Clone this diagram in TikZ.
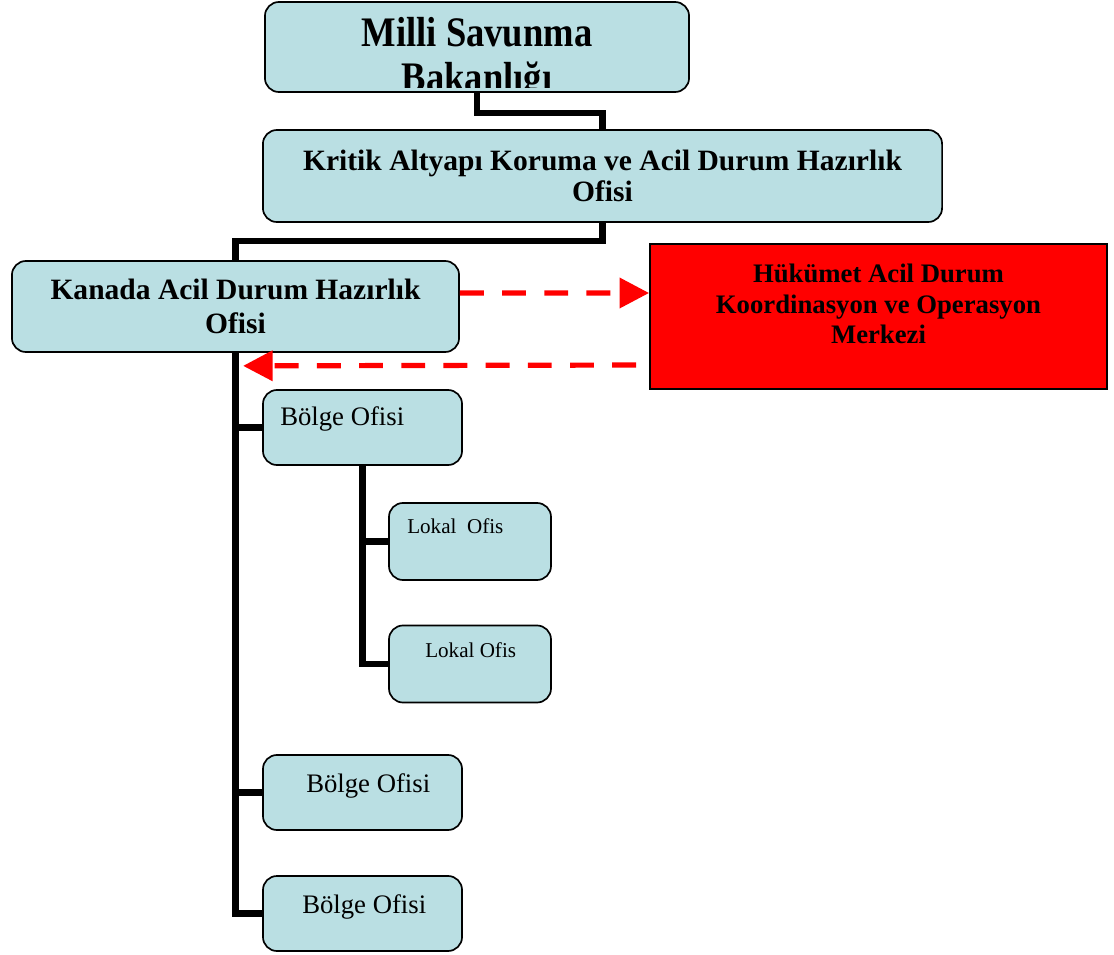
\documentclass[tikz,border=0pt]{standalone}
\usepackage{graphicx}
\usepackage{fontspec}
\setmainfont{Liberation Serif}
\usetikzlibrary{arrows.meta}
\definecolor{ofisblue}{RGB}{186,223,227}

\begin{document}
\begin{tikzpicture}[x=0.025cm,y=-0.025cm,
ofis/.style={draw,rectangle,rounded corners=0.35cm,fill=ofisblue,line width=1.2pt},
kriz/.style={draw,rectangle,fill=red,line width=1.2pt},
baglanti/.style={line width=4.3pt},
kesikok/.style={draw=red,line width=3.7pt,dash pattern=on 17pt off 13pt,-{Triangle[length=21pt,width=21pt]}}]

\useasboundingbox (0,0) rectangle (1114,955);

% bakanlik ve ofisler
\draw (477,47) node[ofis,minimum width=10.6cm,minimum height=2.25cm] (msb) {};
\begin{scope}
\clip (268,4) rectangle (686,87);
\draw (477,60) node[align=center,font=\bfseries\fontsize{26}{28}\selectfont] (msbyazi)
  {\scalebox{1}[1.15]{\begin{tabular}{@{}c@{}}Milli Savunma\\Bakanlığı\end{tabular}}};
\end{scope}

\draw (602.5,176) node[ofis,minimum width=16.975cm,minimum height=2.3cm,align=center,
  font=\bfseries\fontsize{21}{22}\selectfont] (kritik) {Kritik Altyapı Koruma ve Acil Durum Hazırlık\\Ofisi};

\draw (235.5,306.5) node[ofis,minimum width=11.175cm,minimum height=2.275cm,align=center,
  font=\bfseries\fontsize{21}{24}\selectfont] (kanada) {Kanada Acil Durum Hazırlık\\Ofisi};

\draw (878.5,316.5) node[kriz,minimum width=11.425cm,minimum height=3.625cm] (hukumet) {};
\draw (878.5,304) node[align=center,font=\bfseries\fontsize{19}{21.7}\selectfont] (hukumetyazi)
  {Hükümet Acil Durum\\Koordinasyon ve Operasyon\\Merkezi};

% bolge ve lokal ofisler
\draw (362.5,427.5) node[ofis,minimum width=4.975cm,minimum height=1.875cm] (bolge1) {};
\draw (362.5,792.5) node[ofis,minimum width=4.975cm,minimum height=1.875cm] (bolge2) {};
\draw (362.5,913.5) node[ofis,minimum width=4.975cm,minimum height=1.875cm] (bolge3) {};
\draw (470,541.5) node[ofis,minimum width=4.05cm,minimum height=1.925cm] (lokal1) {};
\draw (470,664) node[ofis,minimum width=4.05cm,minimum height=1.925cm] (lokal2) {};

\draw (280,425) node[anchor=base west,inner sep=0pt,font=\fontsize{19}{22}\selectfont] (bolge1yazi) {Bölge Ofisi};
\draw (306,792) node[anchor=base west,inner sep=0pt,font=\fontsize{19}{22}\selectfont] (bolge2yazi) {Bölge Ofisi};
\draw (302,913) node[anchor=base west,inner sep=0pt,font=\fontsize{19}{22}\selectfont] (bolge3yazi) {Bölge Ofisi};
\draw (407,533) node[anchor=base west,inner sep=0pt,font=\fontsize{15}{18}\selectfont] (lokal1yazi) {Lokal~~Ofis};
\draw (425,657) node[anchor=base west,inner sep=0pt,font=\fontsize{15}{18}\selectfont] (lokal2yazi) {Lokal Ofis};

% baglantilar
\draw[baglanti] (msb.south) -- ++(0,20) -| (kritik.north);
\draw[baglanti] (kritik.south) -- ++(0,18) -| (kanada.north);
\draw[baglanti] (kanada.south) |- (bolge1.west);
\draw[baglanti] (kanada.south) |- (bolge2.west);
\draw[baglanti] (kanada.south) |- (bolge3.west);
\draw[baglanti] (bolge1.south) |- (lokal1.west);
\draw[baglanti] (bolge1.south) |- (lokal2.west);

\draw[kesikok] ([yshift=0.3375cm]kanada.east) -- ([yshift=0.5875cm]hukumet.west);
\draw[kesikok] ([xshift=-0.325cm,yshift=-1.2125cm]hukumet.west) -- ([xshift=0.19cm,yshift=-0.325cm]kanada.south);

\end{tikzpicture}
\end{document}
